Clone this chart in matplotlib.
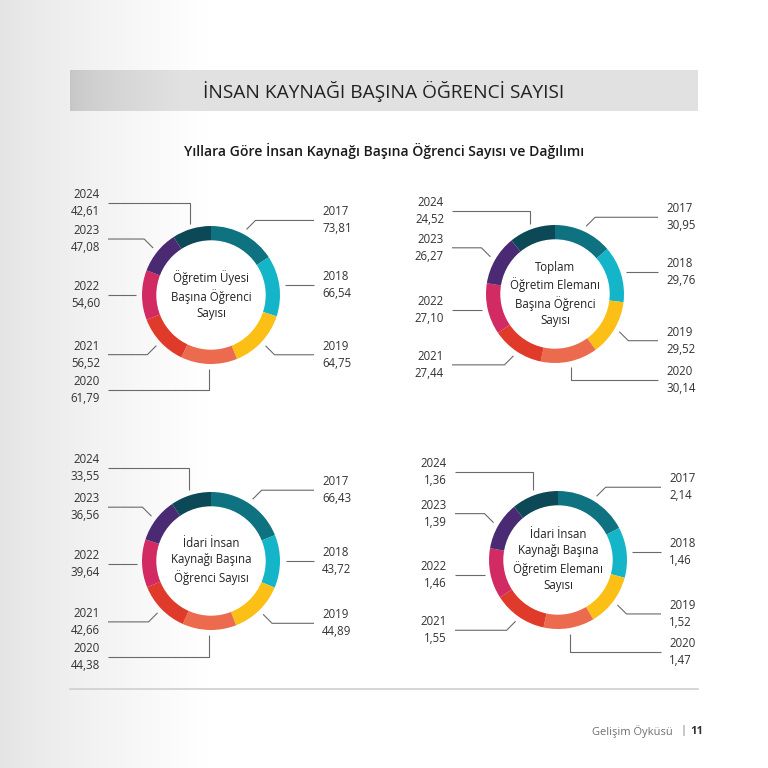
import numpy as np
import matplotlib
matplotlib.use("Agg")
import matplotlib.pyplot as plt
from matplotlib.patches import Circle

plt.rcParams["font.family"] = ["Open Sans", "DejaVu Sans"]

YEARS = ["2017", "2018", "2019", "2020", "2021", "2022", "2023", "2024"]
COLORS = ["#0e7280", "#14b5c8", "#fbbf16", "#ec6a4d", "#e03a2b",
          "#d22a62", "#4a2a72", "#0c4855"]

TITLE = "İNSAN KAYNAĞI BAŞINA ÖĞRENCİ SAYISI"
SUBTITLE = "Yıllara Göre İnsan Kaynağı Başına Öğrenci Sayısı ve Dağılımı"

ogretim_uyesi = [73.81, 66.54, 64.75, 61.79, 56.52, 54.60, 47.08, 42.61]
toplam_eleman = [30.95, 29.76, 29.52, 30.14, 27.44, 27.10, 26.27, 24.52]
idari_ogrenci = [66.43, 43.72, 44.89, 44.38, 42.66, 39.64, 36.56, 33.55]
idari_eleman = [2.14, 1.46, 1.52, 1.47, 1.55, 1.46, 1.39, 1.36]

CENTER_LABELS = [
    "Öğretim Üyesi\nBaşına Öğrenci\nSayısı",
    "Toplam\nÖğretim Elemanı\nBaşına Öğrenci\nSayısı",
    "İdari İnsan\nKaynağı Başına\nÖğrenci Sayısı",
    "İdari İnsan\nKaynağı Başına\nÖğretim Elemanı\nSayısı",
]

W = 768
R_PX = 69.0  # outer ring radius in pixels


def fmt(v):
    return f"{v:.2f}".replace(".", ",")


def donut(fig, cx, cy, values, center_text, vlen=19):
    size = 300
    ax = fig.add_axes([(cx - size / 2) / W, 1 - (cy + size / 2) / W, size / W, size / W])
    ax.pie(values, colors=COLORS, startangle=90, counterclock=False,
           wedgeprops=dict(width=15 / R_PX, linewidth=0))
    lim = size / 2 / R_PX
    ax.set_xlim(-lim, lim)
    ax.set_ylim(-lim, lim)
    ax.set_aspect("equal")
    ax.axis("off")
    ax.add_patch(Circle((0, 0), 54 / R_PX, color="white", zorder=3))
    ax.text(0, 0, center_text, ha="center", va="center", fontsize=8.3,
            color="#222222", linespacing=1.3, zorder=4)

    total = sum(values)
    start = 0.0
    u = 1 / R_PX
    for year, v in zip(YEARS, values):
        ang = start + v / total * 360
        mid = np.radians((start + ang) / 2)
        start = ang
        sx, cy_ = np.sin(mid), np.cos(mid)
        x1, y1 = 1.08 * sx, 1.08 * cy_
        side = 1 if sx >= 0 else -1
        deg = np.degrees(mid) % 360
        if min(deg, 360 - deg) < 22 or abs(deg - 180) < 22:
            x2, y2 = x1, y1 + np.sign(cy_) * vlen * u
        elif abs(deg - 90) < 25 or abs(deg - 270) < 25:
            x2, y2 = x1, y1
        else:
            x2, y2 = x1 + side * 9 * u, y1 + np.sign(cy_) * 9 * u
        x3 = side * 103 * u
        ax.plot([x1, x2, x3], [y1, y2, y2], color="#6a6a6a", lw=0.8,
                clip_on=False, solid_capstyle="butt")
        tx = side * 111 * u
        ax.text(tx, y2, f"{year}\n{fmt(v)}", ha="left" if side > 0 else "right",
                va="center", fontsize=8.3, color="#333333", linespacing=1.4,
                multialignment="right" if side < 0 else "left")


def gray_strip(vals):
    return np.repeat(np.dstack([vals, vals, vals]), 2, axis=0)


def main():
    fig = plt.figure(figsize=(7.68, 7.68), dpi=100)
    bg = fig.add_axes([0, 0, 1, 1])
    bg.axis("off")

    # page background: soft grey fading to white on the left
    xs = np.linspace(0, 1, 256)
    grad = np.clip(0.895 + 0.105 * (xs / 0.27) ** 0.8, 0, 1)
    bg.imshow(gray_strip(grad), extent=[0, W, W, 0], aspect="auto", zorder=0)

    # title bar
    bar = np.clip(0.78 + 0.105 * np.minimum(xs / 0.18, 1) ** 0.7, 0, 1)
    bg.imshow(gray_strip(bar), extent=[70, 698, 111, 70], aspect="auto", zorder=1)
    bg.set_xlim(0, W)
    bg.set_ylim(W, 0)
    bg.text(384, 91.5, TITLE, ha="center", va="center", fontsize=13.8, color="#222222")
    bg.text(384, 151, SUBTITLE, ha="center", va="center", fontsize=10.1,
            fontweight="semibold", color="#1a1a1a")

    donut(fig, 211, 295, ogretim_uyesi, CENTER_LABELS[0], vlen=21)
    donut(fig, 555, 294, toplam_eleman, CENTER_LABELS[1], vlen=13)
    donut(fig, 211, 561, idari_ogrenci, CENTER_LABELS[2], vlen=22)
    donut(fig, 558, 560, idari_eleman, CENTER_LABELS[3], vlen=18)

    # footer
    bg.plot([70, 698], [689, 689], color="#cfcfcf", lw=1.2)
    bg.text(673, 732, "Gelişim Öyküsü", ha="right", va="center", fontsize=8, color="#707070")
    bg.text(683, 731, "|", ha="center", va="center", fontsize=8, color="#707070")
    bg.text(690, 732, "11", ha="left", va="center", fontsize=8, fontweight="bold", color="#333333")

    fig.savefig("out.png", dpi=100)


if __name__ == "__main__":
    main()
